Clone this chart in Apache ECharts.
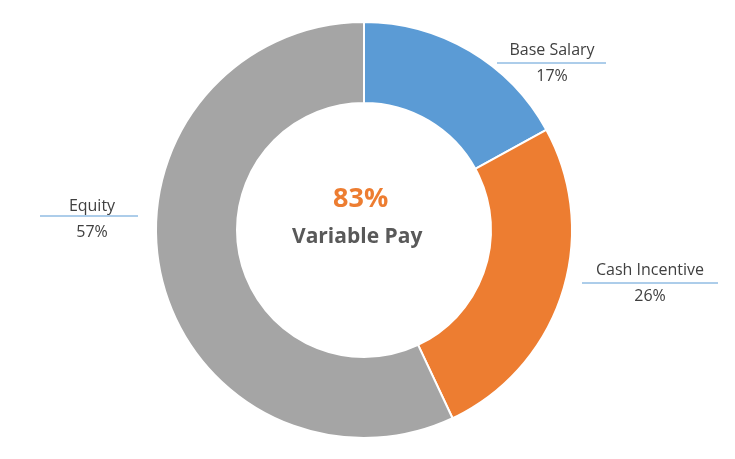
<!DOCTYPE html>
<html>
<head>
<meta charset="utf-8">
<script src="https://cdn.jsdelivr.net/npm/echarts@6/dist/echarts.min.js"></script>
<style>html,body{margin:0;padding:0;background:#fff}#box{width:735px;height:459px}</style>
</head>
<body>
<div id="box"></div>
<script>
var names = ['Base Salary', 'Cash Incentive', 'Equity'];
var values = [17, 26, 57];
var colors = ['#5b9bd5', '#ed7d31', '#a5a5a5'];
var labelPos = [[552, 63], [650, 283], [92, 219]]; // label anchor points

var chart = echarts.init(document.getElementById('box'));
var option = {
    color: colors,
    graphic: [
        {type: 'text', left: 'center', top: 186, style: {text: '83%', x: 0, fill: '#ed7d31', font: 'bold 27px "Open Sans", sans-serif'}, left: 333},
        {type: 'text', top: 227, left: 292, style: {text: 'Variable Pay', fill: '#595959', font: 'bold 21px "Open Sans", sans-serif'}},
        {type: 'line', shape: {x1: 497, y1: 63, x2: 606, y2: 63}, style: {stroke: '#5b9bd5', lineWidth: 1}},
        {type: 'line', shape: {x1: 582, y1: 283, x2: 718, y2: 283}, style: {stroke: '#5b9bd5', lineWidth: 1}},
        {type: 'line', shape: {x1: 40, y1: 216, x2: 138, y2: 216}, style: {stroke: '#5b9bd5', lineWidth: 1}}
    ],
    series: [{
        type: 'pie',
        center: [364, 230],
        radius: [127, 208],
        startAngle: 90,
        clockwise: true,
        itemStyle: {borderColor: '#fff', borderWidth: 2},
        label: {
            show: true,
            formatter: '{n|{b}}\n{p|{d}%}',
            rich: {
                n: {fontSize: 16, color: '#404040', fontFamily: 'Open Sans', lineHeight: 26},
                p: {fontSize: 16, color: '#404040', fontFamily: 'Open Sans', lineHeight: 26}
            }
        },
        labelLine: {show: false},
        labelLayout: function (p) {
            var pos = labelPos[p.dataIndex];
            return {x: pos[0], y: pos[1], align: 'center', verticalAlign: 'middle'};
        },
        emphasis: {disabled: true},
        data: names.map(function (n, i) { return {name: n, value: values[i]}; })
    }]
};
chart.setOption(option);
</script>
</body>
</html>
